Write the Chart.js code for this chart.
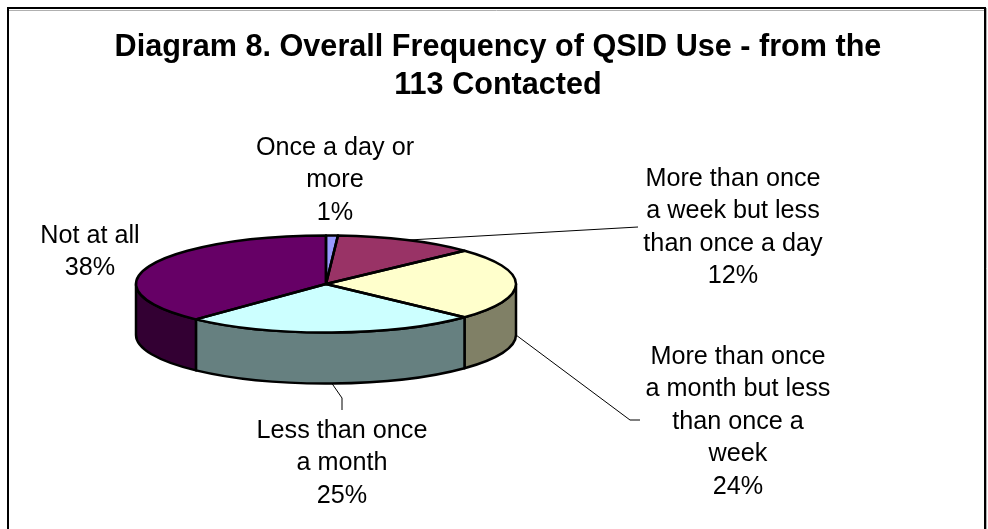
<!DOCTYPE html>
<html>
<head>
<meta charset="utf-8">
<title>Diagram 8</title>
<script src="https://cdn.jsdelivr.net/npm/chart.js@4/dist/chart.umd.min.js"></script>
<style>
    html, body { margin: 0; padding: 0; background: #fff; overflow: hidden; }
    #wrap { position: relative; width: 988px; height: 529px; }
</style>
</head>
<body>
<div id="wrap"><canvas id="pieChart"></canvas></div>
<script>
// ========== data ==========
const categories = [
    'Once a day or more',
    'More than once a week but less than once a day',
    'More than once a month but less than once a week',
    'Less than once a month',
    'Not at all'
];
const values = [1, 12, 24, 25, 38];
const labelLines = [
    ['Once a day or', 'more'],
    ['More than once', 'a week but less', 'than once a day'],
    ['More than once', 'a month but less', 'than once a', 'week'],
    ['Less than once', 'a month'],
    ['Not at all']
];
const titleLines = ['Diagram 8. Overall Frequency of QSID Use - from the', '113 Contacted'];

// ========== styles ==========
const topColors = ['#9999FF', '#993366', '#FFFFCC', '#CCFFFF', '#660066'];
const sideColors = ['#4D4D80', '#4D1A33', '#808066', '#668080', '#330033'];

const PIE = { x: 326, y: 284, rx: 190, ry: 48.5, depth: 51 };
const LABEL_FONT = '25.2px "Liberation Sans", Arial, sans-serif';
const LINE_H = 32.5;

// where each label sits (center x, first line center y)
const labelPos = [
    { x: 335, y: 148 },
    { x: 733, y: 179 },
    { x: 738, y: 357 },
    { x: 342, y: 431 },
    { x: 90, y: 236 }
];
// leader lines: elbow points after the point on the pie edge
const leaders = {
    1: { onSide: false, pts: [[638, 227]] },
    2: { onSide: true, pts: [[630, 420], [640, 420]] },
    3: { onSide: true, pts: [[342, 398], [342, 410]] }
};

function arcList(chart) {
    return chart.getDatasetMeta(0).data;
}

function edgePoint(angle, down) {
    return [PIE.x + PIE.rx * Math.cos(angle), PIE.y + PIE.ry * Math.sin(angle) + (down ? PIE.depth : 0)];
}

const pie3d = {
    id: 'pie3d',
    beforeDraw(chart) {
        const ctx = chart.ctx;
        ctx.save();
        ctx.fillStyle = '#fff';
        ctx.fillRect(0, 0, chart.width, chart.height);
        // frame, no line at the bottom
        ctx.strokeStyle = '#b0b0b0';
        ctx.lineWidth = 1;
        ctx.beginPath();
        ctx.moveTo(9, 10.5);
        ctx.lineTo(984, 10.5);
        ctx.moveTo(986.5, 8);
        ctx.lineTo(986.5, 529);
        ctx.stroke();
        ctx.strokeStyle = '#000';
        ctx.lineWidth = 2;
        ctx.beginPath();
        ctx.moveTo(8, 529);
        ctx.lineTo(8, 8);
        ctx.lineTo(985, 8);
        ctx.lineTo(985, 529);
        ctx.stroke();
        ctx.restore();
    },
    beforeDatasetsDraw(chart) {
        const ctx = chart.ctx;
        const arcs = arcList(chart);
        ctx.save();
        ctx.lineWidth = 2.5;
        ctx.strokeStyle = '#000';
        ctx.lineJoin = 'round';
        // outer wall, only the part facing the viewer
        arcs.forEach((arc, i) => {
            const a0 = Math.max(arc.startAngle, 0);
            const a1 = Math.min(arc.endAngle, Math.PI);
            if (a1 <= a0) return;
            ctx.beginPath();
            ctx.ellipse(PIE.x, PIE.y, PIE.rx, PIE.ry, 0, a0, a1);
            ctx.ellipse(PIE.x, PIE.y + PIE.depth, PIE.rx, PIE.ry, 0, a1, a0, true);
            ctx.closePath();
            ctx.fillStyle = sideColors[i];
            ctx.fill();
            ctx.stroke();
        });
        ctx.restore();

        // the arcs themselves are squashed onto the ellipse
        const first = arcs[0];
        ctx.save();
        ctx.translate(PIE.x, PIE.y);
        ctx.scale(PIE.rx / first.outerRadius, PIE.ry / first.outerRadius);
        ctx.translate(-first.x, -first.y);
    },
    afterDatasetsDraw(chart) {
        const ctx = chart.ctx;
        const arcs = arcList(chart);
        ctx.restore();

        ctx.save();
        ctx.lineWidth = 2.5;
        ctx.strokeStyle = '#000';
        ctx.lineJoin = 'round';
        arcs.forEach(arc => {
            ctx.beginPath();
            ctx.moveTo(PIE.x, PIE.y);
            ctx.ellipse(PIE.x, PIE.y, PIE.rx, PIE.ry, 0, arc.startAngle, arc.endAngle);
            ctx.closePath();
            ctx.stroke();
        });

        // leader lines
        ctx.lineWidth = 1;
        arcs.forEach((arc, i) => {
            const leader = leaders[i];
            if (!leader) return;
            const mid = (arc.startAngle + arc.endAngle) / 2;
            const start = edgePoint(mid, leader.onSide);
            ctx.beginPath();
            ctx.moveTo(start[0], start[1]);
            leader.pts.forEach(p => ctx.lineTo(p[0], p[1]));
            ctx.stroke();
        });

        // labels
        ctx.fillStyle = '#000';
        ctx.font = LABEL_FONT;
        ctx.textAlign = 'center';
        ctx.textBaseline = 'middle';
        categories.forEach((name, i) => {
            const lines = labelLines[i].concat(values[i] + '%');
            lines.forEach((line, k) => {
                ctx.fillText(line, labelPos[i].x, labelPos[i].y + k * LINE_H);
            });
        });
        ctx.restore();
    }
};

new Chart(document.getElementById('pieChart'), {
    type: 'pie',
    data: {
        labels: categories,
        datasets: [{
            data: values,
            backgroundColor: topColors,
            borderWidth: 0,
            radius: 190,
            clip: false
        }]
    },
    options: {
        responsive: true,
        maintainAspectRatio: false,
        animation: false,
        layout: { padding: { left: 8, top: 0 } },
        plugins: {
            legend: { display: false },
            tooltip: { enabled: false },
            title: {
                display: true,
                text: titleLines,
                color: '#000',
                font: { family: '"Liberation Sans", Arial, sans-serif', size: 30.6, weight: 'bold', lineHeight: 1.24 },
                padding: { top: 29, bottom: 10 }
            }
        }
    },
    plugins: [pie3d]
});
</script>
</body>
</html>
